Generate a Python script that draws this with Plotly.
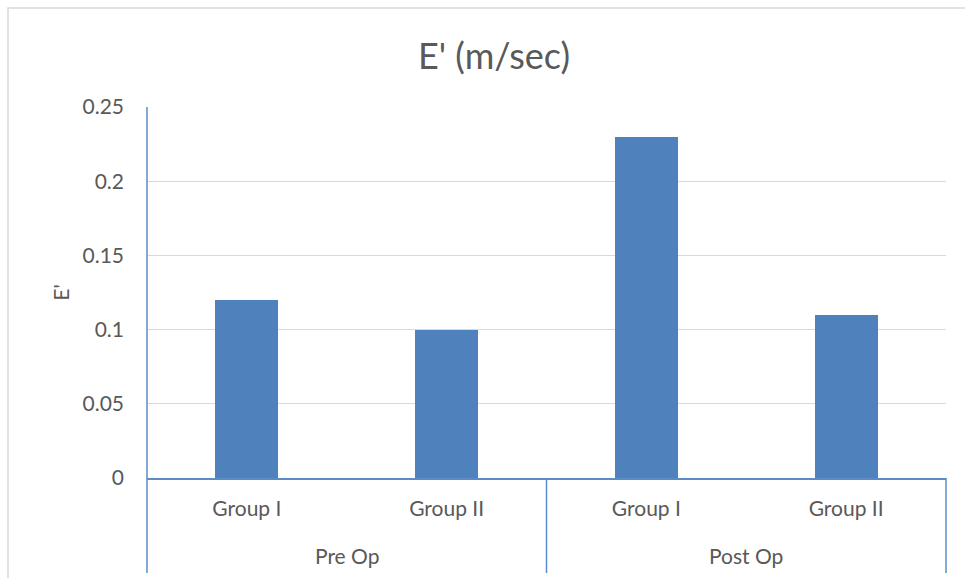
import plotly.graph_objects as go

# E' velocity by phase and group
phases = ["Pre Op", "Pre Op", "Post Op", "Post Op"]
groups = ["Group I", "Group II", "Group I", "Group II"]
e_prime = [0.12, 0.10, 0.23, 0.11]

y_ticks = [0, 0.05, 0.1, 0.15, 0.2, 0.25]
y_tick_text = ["0", "0.05", "0.1", "0.15", "0.2", "0.25"]

BAR = "#4F81BD"
AXIS = "#5B8CC8"
GRID = "#D9D9D9"
TEXT = "#595959"
FONT = "Lato"
TICK_SIZE = 21

W, H = 965, 578
ML, MR, MT, MB = 147, 19, 107, 100
pw, ph = W - ML - MR, H - MT - MB


def px_x(px):
    return (px - ML) / pw


def px_y(py):
    return (H - MB - py) / ph


# one category slot per (phase, group) pair
keys = [f"{p}|{g}" for p, g in zip(phases, groups)]

fig = go.Figure(
    go.Bar(
        x=keys,
        y=e_prime,
        marker=dict(color=BAR, line=dict(width=0)),
        width=0.315,
    )
)

# phase labels centred under their groups, with divider lines between phases
phase_order = []
for p in phases:
    if p not in phase_order:
        phase_order.append(p)

annotations = []
shapes = [
    # outer chart frame
    dict(
        type="rect", xref="paper", yref="paper",
        x0=px_x(8), x1=px_x(990), y0=px_y(600), y1=px_y(8),
        line=dict(color=GRID, width=1.5), layer="below",
    ),
]
start = 0
bounds = [0]
for p in phase_order:
    n = phases.count(p)
    centre = start + (n - 1) / 2
    annotations.append(dict(
        x=centre, xref="x", y=px_y(555), yref="paper",
        text=p, showarrow=False, xanchor="center", yanchor="middle",
        font=dict(family=FONT, size=TICK_SIZE, color=TEXT),
    ))
    start += n
    bounds.append(start)

for i, b in enumerate(bounds):
    xp = b / len(keys)
    shapes.append(dict(
        type="line", xref="paper", yref="paper",
        x0=xp, x1=xp, y0=px_y(573), y1=1 if i == 0 else 0,
        line=dict(color=AXIS, width=1.5),
    ))

fig.update_layout(
    width=W,
    height=H,
    margin=dict(l=ML, r=MR, t=MT, b=MB),
    paper_bgcolor="white",
    plot_bgcolor="white",
    showlegend=False,
    bargap=0,
    font=dict(family=FONT, color=TEXT, size=TICK_SIZE),
    title=dict(
        text="E' (m/sec)",
        x=494 / W,
        xanchor="center",
        y=1 - 56 / H,
        yanchor="middle",
        font=dict(family=FONT, size=36, color="#595959"),
    ),
    xaxis=dict(
        type="category",
        categoryorder="array",
        categoryarray=keys,
        range=[-0.5, len(keys) - 0.5],
        tickvals=keys,
        ticktext=groups,
        showline=True,
        linecolor=AXIS,
        linewidth=1.5,
        ticks="",
        ticklabelstandoff=11,
        tickfont=dict(family=FONT, size=TICK_SIZE, color=TEXT),
        showgrid=False,
        zeroline=False,
    ),
    yaxis=dict(
        range=[0, 0.25],
        tickvals=y_ticks,
        ticktext=y_tick_text,
        showgrid=True,
        gridcolor=GRID,
        gridwidth=1.2,
        showline=False,
        zeroline=False,
        ticks="",
        ticklabelstandoff=22,
        tickfont=dict(family=FONT, size=TICK_SIZE, color=TEXT),
        title=dict(text="E'", standoff=7, font=dict(family=FONT, size=TICK_SIZE, color=TEXT)),
    ),
    annotations=annotations,
    shapes=shapes,
)

fig.write_html("out.html")
